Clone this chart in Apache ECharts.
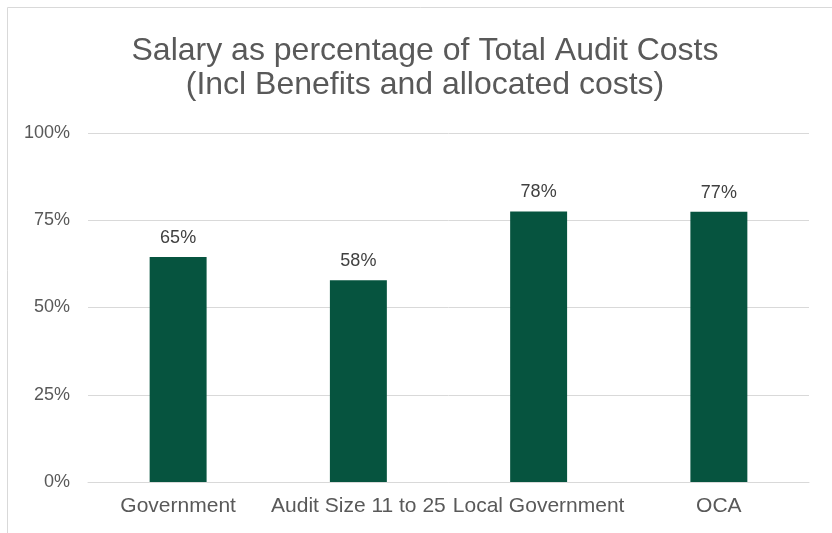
<!DOCTYPE html>
<html><head><meta charset="utf-8">
<script src="https://cdn.jsdelivr.net/npm/echarts@6/dist/echarts.min.js"></script>
<style>html,body{margin:0;padding:0;background:#fff}#c{width:832px;height:533px}</style>
</head><body><div id="c"></div>
<script>
const categories = ['Government', 'Audit Size 11 to 25', 'Local Government', 'OCA'];
const values = [0.645, 0.578, 0.775, 0.774];
const yTicks = [0, 0.25, 0.5, 0.75, 1];
const titleText = 'Salary as percentage of Total Audit Costs\n(Incl Benefits and allocated costs)';

const chart = echarts.init(document.getElementById('c'), null, {renderer: 'canvas'});
chart.setOption({
  animation: false,
  graphic: [{
    type: 'rect', shape: {x: 7.5, y: 7.5, width: 900, height: 600},
    style: {fill: 'none', stroke: '#D9D9D9', lineWidth: 1}, silent: true, z: -1
  }],
  title: {
    text: titleText, left: 425, textAlign: 'center', top: 34, padding: 0,
    textStyle: {fontFamily: 'Liberation Sans', fontSize: 32, fontWeight: 'normal', color: '#595959', lineHeight: 34}
  },
  grid: {left: 88, right: 23, top: 133, bottom: 51, containLabel: false},
  xAxis: {
    type: 'category', data: categories,
    axisLine: {lineStyle: {color: '#D9D9D9', width: 1}}, axisTick: {show: false},
    axisLabel: {fontFamily: 'Liberation Sans', fontSize: 21, color: '#595959', margin: 14, interval: 0}
  },
  yAxis: {
    type: 'value', min: yTicks[0], max: yTicks[yTicks.length - 1], interval: 0.25,
    axisLine: {show: false}, axisTick: {show: false},
    splitLine: {lineStyle: {color: '#D9D9D9', width: 1}},
    axisLabel: {fontFamily: 'Liberation Sans', fontSize: 18, color: '#595959', margin: 18,
      formatter: v => Math.round(v * 100) + '%'}
  },
  series: [{
    type: 'bar', data: values, barWidth: '31.6%',
    itemStyle: {color: '#06543F'},
    label: {show: true, position: 'top', distance: 10, fontFamily: 'Liberation Sans', fontSize: 18, color: '#404040',
      formatter: p => Math.round(p.value * 100) + '%'}
  }]
});
</script></body></html>
